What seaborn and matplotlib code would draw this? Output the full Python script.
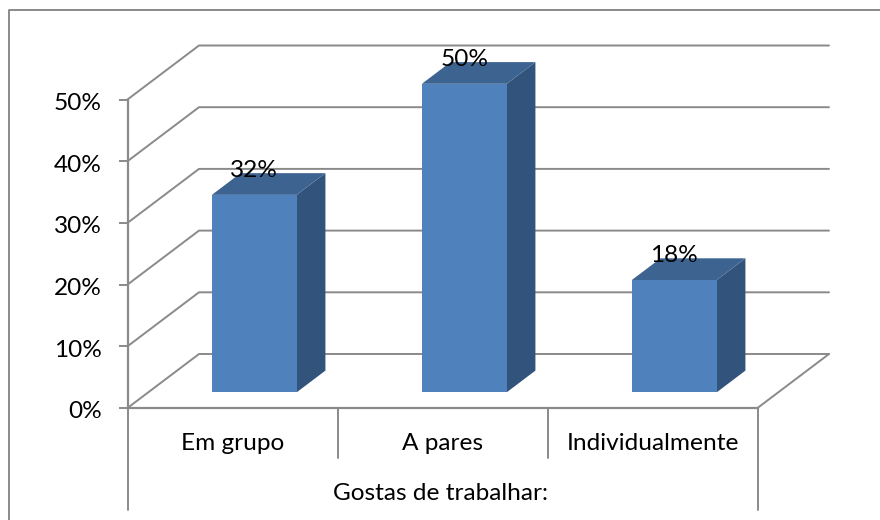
import matplotlib
matplotlib.use("Agg")
import matplotlib.pyplot as plt
import seaborn as sns
from matplotlib.lines import Line2D
from matplotlib.patches import Polygon
from matplotlib.transforms import ScaledTranslation

categories = ["Em grupo", "A pares", "Individualmente"]
values = [0.32, 0.50, 0.182]
value_labels = ["32%", "50%", "18%"]
y_ticks = [0.0, 0.1, 0.2, 0.3, 0.4, 0.5]
y_tick_labels = ["0%", "10%", "20%", "30%", "40%", "50%"]
axis_title = "Gostas de trabalhar:"

FRONT = "#4F81BD"
TOP = "#3D6491"
SIDE = "#32547C"
GRID = "#8A8A8A"
FS = 17.6
W, H = 880, 520
LEFT, RIGHT, BASE, TOPY = 127.5, 757.5, 408, 99.5
PX_X = (RIGHT - LEFT) / 3
PX_Y = (BASE - TOPY) / 0.5
# pseudo-3D offsets, in data units
WALL_DX, WALL_DY = 71.5 / PX_X, 54 / PX_Y
BAR_DX, BAR_DY = 21.8 / PX_X, 15.7 / PX_Y
DEPTH_DX, DEPTH_DY = 28.7 / PX_X, 21.7 / PX_Y
LW = 1.4

sns.set_theme(style="white")
plt.rcParams["font.family"] = ["Lato", "DejaVu Sans"]
fig = plt.figure(figsize=(W / 100, H / 100), dpi=100, facecolor="white")
ax = fig.add_axes([LEFT / W, 1 - BASE / H, (RIGHT - LEFT) / W, (BASE - TOPY) / H])
ax.patch.set_alpha(0)

sns.barplot(x=categories, y=values, color=FRONT, width=0.404, saturation=1, ax=ax, zorder=4)
ax.set_xlim(-0.5, 2.5)
ax.set_ylim(0, 0.5)

# Wall grid lines and their diagonals over the side wall
xl, xr = -0.5, 2.5
for v in y_ticks:
    ax.plot([xl, xl + WALL_DX, xr + WALL_DX], [v, v + WALL_DY, v + WALL_DY],
            color=GRID, lw=LW, clip_on=False, zorder=1, solid_joinstyle="miter")
# Floor right edge
ax.plot([xr, xr + WALL_DX], [0, WALL_DY], color=GRID, lw=LW, clip_on=False, zorder=1)

# Multi-level category axis lines
low1 = -50 / PX_Y
low2 = -102 / PX_Y
ax.plot([xl, xl], [0, low2], color=GRID, lw=LW, clip_on=False, zorder=2)
ax.plot([xr, xr], [0, low2], color=GRID, lw=LW, clip_on=False, zorder=2)
for d in (0.5, 1.5):
    ax.plot([d, d], [0, low1], color=GRID, lw=LW, clip_on=False, zorder=2)

# Bars: shift the front faces and add top and side faces
for p, lab in zip(ax.patches, value_labels):
    p.set_x(p.get_x() + BAR_DX)
    p.set_y(BAR_DY)
    p.set_clip_on(False)
    p.set_linewidth(0)
    x0, x1 = p.get_x(), p.get_x() + p.get_width()
    y0, y1 = BAR_DY, BAR_DY + p.get_height()
    ax.add_patch(Polygon([(x1, y0), (x1 + DEPTH_DX, y0 + DEPTH_DY), (x1 + DEPTH_DX, y1 + DEPTH_DY), (x1, y1)],
                         closed=True, fc=SIDE, ec="none", clip_on=False, zorder=3))
    ax.add_patch(Polygon([(x0, y1), (x1, y1), (x1 + DEPTH_DX, y1 + DEPTH_DY), (x0 + DEPTH_DX, y1 + DEPTH_DY)],
                         closed=True, fc=TOP, ec="none", clip_on=False, zorder=3))
    ax.text((x0 + x1) / 2, y1 + 24.5 / PX_Y, lab, ha="center", va="center",
            fontsize=FS, color="black", zorder=6, clip_on=False)

sns.despine(ax=ax, top=True, right=True)
for s in ("left", "bottom"):
    ax.spines[s].set_color(GRID)
    ax.spines[s].set_linewidth(LW + 0.2)
ax.set_yticks(y_ticks)
ax.set_yticklabels(y_tick_labels, fontsize=FS, color="black")
ax.tick_params(axis="y", left=True, length=6.5, width=LW, color=GRID, pad=12)
ax.tick_params(axis="x", bottom=False, labelsize=FS, labelcolor="black", pad=12)
nudge = ScaledTranslation(0, -2 / 100, fig.dpi_scale_trans)
for t in ax.get_yticklabels():
    t.set_transform(t.get_transform() + nudge)
ax.set_xlabel(axis_title, fontsize=FS, color="black", labelpad=21)
ax.set_ylabel("")
ax.xaxis.label.set_x(0.4975)

# Chart frame, cropped by the image at right and bottom
fig.add_artist(Line2D([8.5 / W, 8.5 / W, 1], [0, 1 - 9.8 / H, 1 - 9.8 / H], color=GRID, lw=1.4,
                      transform=fig.transFigure))

fig.savefig("out.png", dpi=100, facecolor="white")
